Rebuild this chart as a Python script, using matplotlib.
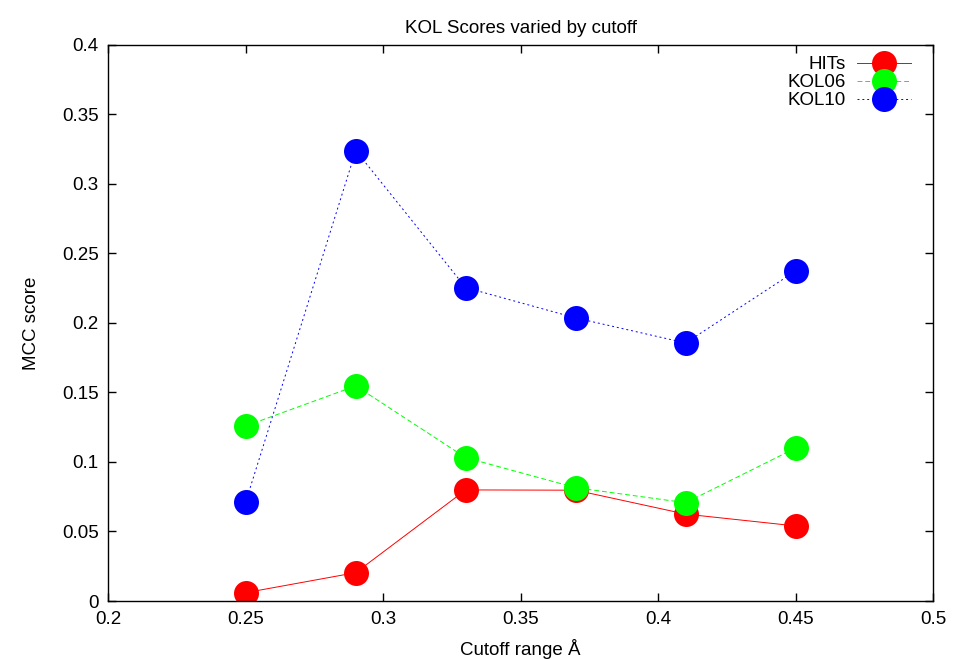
import matplotlib.pyplot as plt

plt.rcParams['font.family'] = ['Liberation Sans', 'DejaVu Sans']

# cutoff values and MCC scores
cutoff = [0.25, 0.29, 0.33, 0.37, 0.41, 0.45]
hits = [0.006, 0.0204, 0.0799, 0.0797, 0.0625, 0.054]
kol06 = [0.1259, 0.1547, 0.1031, 0.0815, 0.0707, 0.110]
kol10 = [0.0714, 0.324, 0.2254, 0.2036, 0.1856, 0.2374]

fig = plt.figure(figsize=(9.62, 6.59), dpi=100)
ax = fig.add_axes([0.1126, 0.088, 0.8574, 0.8439])

ax.plot(cutoff, hits, color='#ff0000', lw=0.7, linestyle='-',
        marker='o', ms=18, mec='none', mfc='#ff0000', label='HITs')
ax.plot(cutoff, kol06, color='#00ff00', lw=0.7, linestyle=(0, (5, 3)),
        marker='o', ms=18, mec='none', mfc='#00ff00', label='KOL06')
ax.plot(cutoff, kol10, color='#0000ff', lw=0.7, linestyle=(0, (2, 3)),
        marker='o', ms=18, mec='none', mfc='#0000ff', label='KOL10')

ax.set_xlim(0.2, 0.5)
ax.set_ylim(0, 0.4)
ax.set_xticks([0.2, 0.25, 0.3, 0.35, 0.4, 0.45, 0.5])
ax.set_xticklabels(['0.2', '0.25', '0.3', '0.35', '0.4', '0.45', '0.5'])
ax.set_yticks([0, 0.05, 0.1, 0.15, 0.2, 0.25, 0.3, 0.35, 0.4])
ax.set_yticklabels(['0', '0.05', '0.1', '0.15', '0.2', '0.25', '0.3', '0.35', '0.4'])
ax.tick_params(direction='in', top=True, right=True, length=5.5, width=1,
               labelsize=13.5, pad=7)
for s in ax.spines.values():
    s.set_linewidth(1)

ax.set_title('KOL Scores varied by cutoff', fontsize=13.5, pad=8.5)
ax.set_xlabel('Cutoff range Å', fontsize=13.5, labelpad=8)
ax.set_ylabel('MCC score', fontsize=13.5, labelpad=16)

ax.legend(loc='upper right', bbox_to_anchor=(0.9733, 0.980), frameon=False,
          markerfirst=False, fontsize=13.5, handlelength=2.9,
          labelspacing=0.05, handletextpad=0.6, borderaxespad=0, borderpad=0)

plt.savefig('out.png', dpi=100)
